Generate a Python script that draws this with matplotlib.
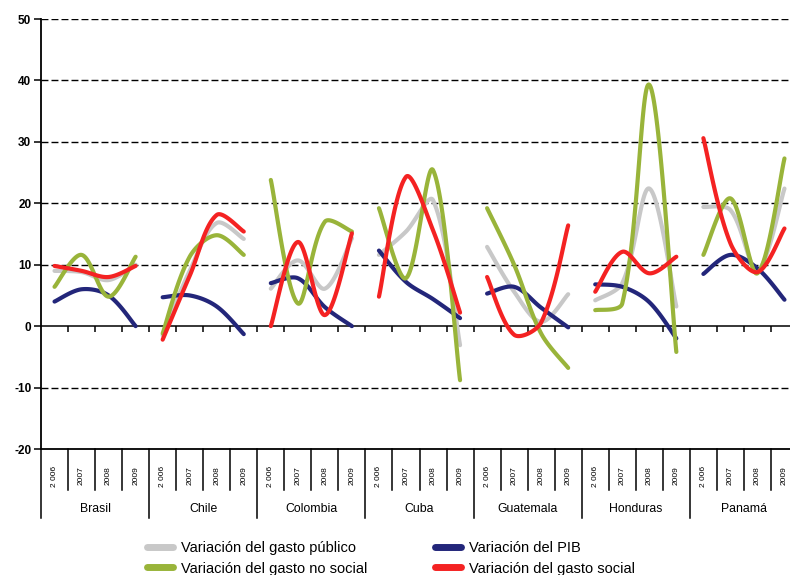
import numpy as np
import matplotlib
matplotlib.use("Agg")
import matplotlib.pyplot as plt
from matplotlib.lines import Line2D
from matplotlib.transforms import blended_transform_factory

plt.rcParams['font.family'] = ['Liberation Sans', 'DejaVu Sans']

countries = ['Brasil', 'Chile', 'Colombia', 'Cuba', 'Guatemala', 'Honduras', 'Panamá']
years = ['2 006', '2007', '2008', '2009']

# four values per country, 2006-2009
gasto_publico = [
    9.0, 8.8, 7.5, 10.0,
    -1.5, 9.0, 16.8, 14.2,
    6.1, 10.7, 6.1, 14.3,
    11.6, 15.4, 20.5, -3.1,
    12.9, 5.6, 0.7, 5.2,
    4.2, 7.0, 22.4, 3.2,
    19.4, 18.9, 9.1, 22.4,
]
pib = [
    4.0, 6.0, 5.0, 0.0,
    4.7, 5.0, 3.2, -1.3,
    7.0, 7.8, 3.1, 0.0,
    12.3, 7.2, 4.4, 1.3,
    5.3, 6.4, 3.0, -0.2,
    6.8, 6.4, 3.9, -2.0,
    8.5, 11.6, 9.4, 4.3,
]
gasto_no_social = [
    6.4, 11.6, 4.8, 11.3,
    -1.2, 11.3, 14.8, 11.6,
    23.8, 3.7, 17.0, 15.4,
    19.2, 7.8, 25.4, -8.8,
    19.2, 10.0, -1.2, -6.8,
    2.6, 3.7, 39.3, -4.2,
    11.6, 20.8, 8.6, 27.3,
]
gasto_social = [
    9.8, 9.0, 8.0, 9.8,
    -2.2, 8.2, 18.1, 15.4,
    0.0, 13.7, 1.8, 15.1,
    4.8, 24.3, 15.6, 2.2,
    8.0, -1.4, 0.6, 16.4,
    5.6, 12.1, 8.6, 11.3,
    30.6, 13.5, 8.8, 15.9,
]

series = [
    ('Variación del gasto público', gasto_publico, '#c8c8c8'),
    ('Variación del PIB', pib, '#23267a'),
    ('Variación del gasto no social', gasto_no_social, '#99b43a'),
    ('Variación del gasto social', gasto_social, '#f42222'),
]

# screen size of one category / one percentage point, used to weight the tangents
X_SCALE, Y_SCALE = 27.0, 6.14


def smooth(x, y, n=40):
    # Bezier smoothing with tangents split by chord length, like a spreadsheet "smoothed line"
    p = np.column_stack([np.asarray(x, float) * X_SCALE, np.asarray(y, float) * Y_SCALE])
    m = len(p)
    c_in = p.copy()
    c_out = p.copy()
    for i in range(m):
        a = p[max(i - 1, 0)]
        b = p[min(i + 1, m - 1)]
        tan = b - a
        d_prev = np.linalg.norm(p[i] - a)
        d_next = np.linalg.norm(b - p[i])
        tot = d_prev + d_next
        if tot == 0:
            continue
        if i == 0 or i == m - 1:
            c_in[i] = p[i] - tan / 6
            c_out[i] = p[i] + tan / 6
        else:
            c_in[i] = p[i] - tan / 3 * d_prev / tot
            c_out[i] = p[i] + tan / 3 * d_next / tot
    t = np.linspace(0, 1, n)[:, None]
    out = []
    for i in range(m - 1):
        p1, c1, c2, p2 = p[i], c_out[i], c_in[i + 1], p[i + 1]
        seg = ((1 - t) ** 3 * p1 + 3 * (1 - t) ** 2 * t * c1
               + 3 * (1 - t) * t ** 2 * c2 + t ** 3 * p2)
        out.append(seg if i == 0 else seg[1:])
    out = np.vstack(out)
    return out[:, 0] / X_SCALE, out[:, 1] / Y_SCALE


fig = plt.figure(figsize=(7.9, 5.75), dpi=100)
ax = fig.add_axes([41 / 790, 126 / 575, 757 / 790, 430 / 575])

n_years = len(years)
n_cat = len(countries) * n_years
ax.set_xlim(-0.5, n_cat - 0.5)
ax.set_ylim(-20, 50)

for y in [-10, 10, 20, 30, 40, 50]:
    ax.axhline(y, color='black', lw=1.0, ls=(0, (5, 2.2)), zorder=1)
ax.axhline(0, color='black', lw=1.1, zorder=2)
bounds = np.arange(0.5, n_cat - 0.5, 1)
ax.vlines(bounds, -1.0, 0, color='black', lw=1.1, zorder=2)

for label, vals, col in series:
    vals = np.array(vals)
    for c in range(len(countries)):
        xs = np.arange(c * n_years, (c + 1) * n_years)
        sx, sy = smooth(xs, vals[c * n_years:(c + 1) * n_years])
        ax.plot(sx, sy, color=col, lw=3.0, solid_capstyle='round', zorder=3)

for s in ['top', 'right']:
    ax.spines[s].set_visible(False)
ax.spines['left'].set_linewidth(1.3)
ax.spines['bottom'].set_linewidth(1.3)

ax.set_yticks(range(-20, 51, 10))
ax.set_yticklabels([str(v) for v in range(-20, 51, 10)], fontweight='bold', fontsize=8.5)
ax.tick_params(axis='y', direction='out', length=5, width=1.1, pad=2)
ax.set_xticks([])

# two-level category labels below the plot
tr = blended_transform_factory(ax.transData, ax.transAxes)
for i in range(n_cat + 1):
    xb = i - 0.5
    y_end = -69 / 430 if i % n_years == 0 else -41 / 430
    ax.add_line(Line2D([xb, xb], [0, y_end], transform=tr, color='black',
                       lw=1.1, clip_on=False))
for i in range(n_cat):
    ax.text(i, -27 / 430, years[i % n_years], transform=tr, rotation=90,
            ha='center', va='center', fontsize=6)
for c, name in enumerate(countries):
    ax.text(c * n_years + (n_years - 1) / 2, -60 / 430, name, transform=tr,
            ha='center', va='center', fontsize=8.8)

handles = [Line2D([], [], color=col, lw=5, solid_capstyle='round') for _, _, col in series]
labels = [s[0] for s in series]
leg_kw = dict(frameon=False, loc='upper left', fontsize=10.5, borderpad=0,
              borderaxespad=0, handlelength=1.8, handletextpad=0.5, labelspacing=0.45)
fig.legend([handles[0], handles[2]], [labels[0], labels[2]],
           bbox_to_anchor=(147 / 790, 1 - 541 / 575), **leg_kw)
fig.legend([handles[1], handles[3]], [labels[1], labels[3]],
           bbox_to_anchor=(435 / 790, 1 - 541 / 575), **leg_kw)

fig.savefig('out.png', dpi=100)
